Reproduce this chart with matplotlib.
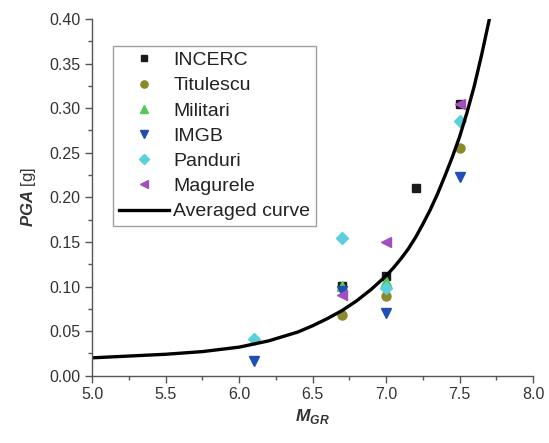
import matplotlib
matplotlib.use("Agg")
import matplotlib.pyplot as plt
from matplotlib.ticker import MultipleLocator

plt.rcParams['font.family'] = ['Liberation Sans', 'DejaVu Sans']
plt.rcParams['mathtext.fontset'] = 'custom'
plt.rcParams['mathtext.rm'] = 'Liberation Sans'
plt.rcParams['mathtext.bfit'] = 'Liberation Sans:bold:italic'

# station data (M_GR, PGA in g)
incerc_m = [6.7, 7.0, 7.2, 7.5]
incerc_pga = [0.101, 0.112, 0.211, 0.305]
titulescu_m = [6.7, 7.0, 7.5]
titulescu_pga = [0.068, 0.089, 0.255]
militari_m = [6.7, 7.0]
militari_pga = [0.101, 0.106]
imgb_m = [6.1, 6.7, 7.0, 7.5]
imgb_pga = [0.017, 0.095, 0.070, 0.223]
panduri_m = [6.1, 6.7, 7.0, 7.5]
panduri_pga = [0.041, 0.154, 0.098, 0.286]
magurele_m = [6.7, 7.0, 7.5]
magurele_pga = [0.091, 0.150, 0.305]

# averaged curve
curve_m = [5.0, 5.25, 5.5, 5.75, 6.0, 6.2, 6.4, 6.5, 6.6, 6.7, 6.8, 6.9, 7.0,
           7.05, 7.1, 7.15, 7.2, 7.25, 7.3, 7.35, 7.4, 7.45, 7.5, 7.55, 7.6,
           7.65, 7.7, 7.75]
curve_pga = [0.020, 0.022, 0.024, 0.027, 0.032, 0.039, 0.049, 0.056, 0.064,
             0.073, 0.084, 0.097, 0.112, 0.121, 0.131, 0.142, 0.155, 0.170,
             0.186, 0.204, 0.224, 0.245, 0.268, 0.295, 0.325, 0.360, 0.398,
             0.44]

fig = plt.figure(figsize=(5.49, 4.43), dpi=100)
ax = fig.add_axes([0.168, 0.152, 0.803, 0.805])

ax.plot(incerc_m, incerc_pga, 's', color='#1a1a1a', ms=5.5, ls='none', label='INCERC')
ax.plot(titulescu_m, titulescu_pga, 'o', color='#8a8a2a', ms=6.5, ls='none', label='Titulescu')
ax.plot(militari_m, militari_pga, '^', color='#55c855', ms=6.5, ls='none', label='Militari')
ax.plot(imgb_m, imgb_pga, 'v', color='#1f4fb4', ms=7, ls='none', label='IMGB')
ax.plot(panduri_m, panduri_pga, 'D', color='#5ccfdc', ms=6.5, ls='none', label='Panduri')
ax.plot(magurele_m, magurele_pga, '<', color='#a24fc0', ms=7, ls='none', label='Magurele')
ax.plot(curve_m, curve_pga, '-', color='black', lw=2.4, label='Averaged curve',
        solid_joinstyle='round')

ax.set_xlim(5.0, 8.0)
ax.set_ylim(0.0, 0.40)
ax.xaxis.set_major_locator(MultipleLocator(0.5))
ax.xaxis.set_minor_locator(MultipleLocator(0.25))
ax.yaxis.set_major_locator(MultipleLocator(0.05))
ax.yaxis.set_minor_locator(MultipleLocator(0.025))
ax.xaxis.set_major_formatter(plt.FormatStrFormatter('%.1f'))
ax.yaxis.set_major_formatter(plt.FormatStrFormatter('%.2f'))

for s in ['top', 'right']:
    ax.spines[s].set_visible(False)
for s in ['left', 'bottom']:
    ax.spines[s].set_color('#555555')
    ax.spines[s].set_linewidth(1.0)
ax.tick_params(which='major', direction='out', length=5, width=1, color='#555555',
               labelsize=11.5, labelcolor='#333333')
ax.tick_params(which='minor', direction='out', length=3, width=1, color='#555555')

ax.set_xlabel(r'$\mathbfit{M}_{\mathbfit{GR}}$', fontsize=12.5, color='#333333', labelpad=3)
ax.set_ylabel(r'$\mathbfit{PGA}$ [g]', fontsize=12, color='#333333', labelpad=8)

leg = ax.legend(loc='upper left', bbox_to_anchor=(0.047, 0.925), fontsize=14,
                frameon=True, fancybox=False, edgecolor='#888888',
                handlelength=2.6, handletextpad=0.2, labelspacing=0.39,
                borderpad=0.3, borderaxespad=0.0, numpoints=1, markerscale=0.8)
leg.get_frame().set_linewidth(1.0)
for t in leg.get_texts():
    t.set_color('#222222')

fig.savefig('out.png', dpi=100)
